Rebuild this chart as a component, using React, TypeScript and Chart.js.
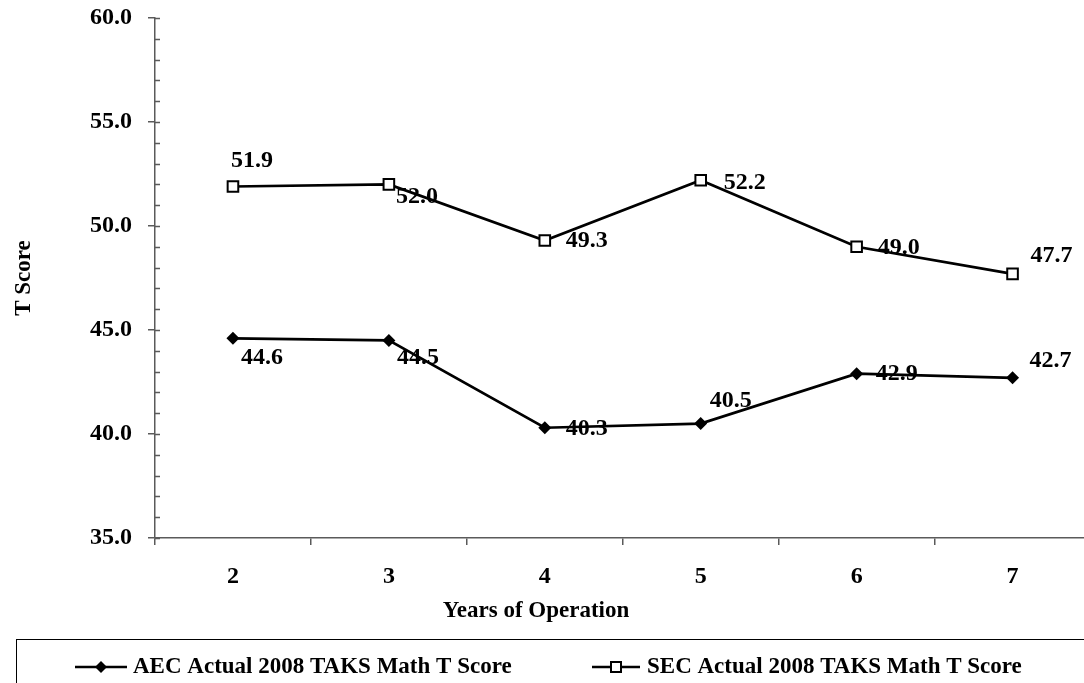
import React, { useEffect, useRef } from 'react';
import { Chart, registerables } from 'chart.js';

Chart.register(...registerables);

const categories = ['2', '3', '4', '5', '6', '7'];
const aecValues = [44.6, 44.5, 40.3, 40.5, 42.9, 42.7];
const secValues = [51.9, 52.0, 49.3, 52.2, 49.0, 47.7];
const aecLabel = 'AEC Actual 2008 TAKS Math T Score';
const secLabel = 'SEC Actual 2008 TAKS Math T Score';
const yTitle = 'T Score';
const xTitle = 'Years of Operation';

// label placement (dx, dy of label centre from its point), style only
const aecLabelOffsets = [[29, 19], [29, 17], [42, 1], [30, -23], [40, 0], [38, -17]];
const secLabelOffsets = [[19, -26], [28, 12], [42, 0], [44, 3], [42, 1], [39, -18]];

const FONT = '"Liberation Serif", "Times New Roman", serif';
const AXIS = '#5a5a5a';

const dataLabelPlugin = {
  id: 'dataLabels',
  afterDatasetsDraw(chart: any) {
    const ctx = chart.ctx;
    ctx.save();
    ctx.font = `bold 24px ${FONT}`;
    ctx.fillStyle = '#000';
    ctx.textAlign = 'center';
    ctx.textBaseline = 'middle';
    chart.data.datasets.forEach((ds: any, di: number) => {
      const meta = chart.getDatasetMeta(di);
      const offs = ds.labelOffsets || [];
      meta.data.forEach((el: any, i: number) => {
        const o = offs[i] || [0, 0];
        ctx.fillText(Number(ds.data[i]).toFixed(1), el.x + o[0], el.y + o[1]);
      });
    });
    ctx.restore();
  },
};

const minorTickPlugin = {
  id: 'minorTicks',
  afterDraw(chart: any) {
    const ctx = chart.ctx;
    const y = chart.scales.y;
    const left = chart.chartArea.left;
    ctx.save();
    ctx.strokeStyle = AXIS;
    ctx.lineWidth = 1.5;
    ctx.beginPath();
    for (let v = y.min; v <= y.max + 1e-9; v += 1) {
      const py = Math.round(y.getPixelForValue(v)) + 0.5;
      ctx.moveTo(left, py);
      ctx.lineTo(left + 5, py);
    }
    ctx.stroke();
    ctx.restore();
  },
};

const xTitlePlugin = {
  id: 'xTitle',
  afterDraw(chart: any) {
    const ctx = chart.ctx;
    ctx.save();
    ctx.fillStyle = '#000';
    ctx.font = `bold 23px ${FONT}`;
    ctx.textAlign = 'center';
    ctx.textBaseline = 'middle';
    ctx.fillText(xTitle, 536, 611);
    ctx.restore();
  },
};

const legendBoxPlugin = {
  id: 'legendBox',
  afterDraw(chart: any) {
    const ctx = chart.ctx;
    ctx.save();
    ctx.strokeStyle = '#000';
    ctx.lineWidth = 1;
    ctx.strokeRect(16.5, 639.5, 1078, 100);
    const cy = 667;
    const items = [
      { x1: 75, x2: 127, tx: 133, text: chart.data.datasets[0].label, style: 'diamond' },
      { x1: 592, x2: 640, tx: 647, text: chart.data.datasets[1].label, style: 'square' },
    ];
    items.forEach((it) => {
      ctx.strokeStyle = '#000';
      ctx.lineWidth = 2.5;
      ctx.beginPath();
      ctx.moveTo(it.x1, cy);
      ctx.lineTo(it.x2, cy);
      ctx.stroke();
      const cx = (it.x1 + it.x2) / 2;
      if (it.style === 'diamond') {
        ctx.fillStyle = '#000';
        ctx.beginPath();
        ctx.moveTo(cx - 6, cy);
        ctx.lineTo(cx, cy - 6);
        ctx.lineTo(cx + 6, cy);
        ctx.lineTo(cx, cy + 6);
        ctx.closePath();
        ctx.fill();
      } else {
        ctx.fillStyle = '#fff';
        ctx.lineWidth = 2;
        ctx.fillRect(cx - 5, cy - 5, 10, 10);
        ctx.strokeRect(cx - 5, cy - 5, 10, 10);
      }
      ctx.fillStyle = '#000';
      ctx.font = `bold 23px ${FONT}`;
      ctx.textAlign = 'left';
      ctx.textBaseline = 'middle';
      ctx.fillText(it.text, it.tx, cy);
    });
    ctx.restore();
  },
};

export default function App() {
  const ref = useRef<HTMLCanvasElement | null>(null);

  useEffect(() => {
    document.body.style.margin = '0';
    document.body.style.overflow = 'hidden';
    const canvas = ref.current;
    if (!canvas) return;
    const chart = new Chart(canvas, {
      type: 'line',
      data: {
        labels: categories,
        datasets: [
          {
            label: aecLabel,
            data: aecValues,
            borderColor: '#000',
            backgroundColor: '#000',
            borderWidth: 2.7,
            pointStyle: 'rectRot',
            pointRadius: 6.5,
            pointBorderWidth: 0,
            pointBackgroundColor: '#000',
            tension: 0,
            labelOffsets: aecLabelOffsets,
          } as any,
          {
            label: secLabel,
            data: secValues,
            borderColor: '#000',
            backgroundColor: '#fff',
            borderWidth: 2.7,
            pointStyle: 'rect',
            pointRadius: 7.5,
            pointBorderWidth: 2,
            pointBorderColor: '#000',
            pointBackgroundColor: '#fff',
            tension: 0,
            labelOffsets: secLabelOffsets,
          } as any,
        ],
      },
      options: {
        animation: false,
        responsive: false,
        devicePixelRatio: 1,
        layout: { padding: { left: 0, right: 9, top: 18, bottom: 0 } },
        plugins: {
          legend: { display: false },
          tooltip: { enabled: false },
        },
        scales: {
          x: {
            type: 'category',
            offset: true,
            afterFit: (s: any) => { s.height = 145; s.paddingLeft = 0; s.paddingRight = 0; },
            grid: {
              offset: true,
              drawOnChartArea: false,
              drawTicks: true,
              tickLength: 7,
              color: AXIS,
              lineWidth: 1.5,
            },
            border: { display: true, color: AXIS, width: 1.5 },
            ticks: {
              color: '#000',
              padding: 17,
              font: { family: FONT, size: 24, weight: 'bold' },
              maxRotation: 0,
            },
            title: { display: false, text: xTitle },
          },
          y: {
            min: 35,
            max: 60,
            afterFit: (s: any) => { s.width = 155; s.paddingTop = 0; s.paddingBottom = 0; },
            grid: {
              drawOnChartArea: false,
              drawTicks: true,
              tickLength: 7,
              color: AXIS,
              lineWidth: 1.5,
            },
            border: { display: true, color: AXIS, width: 1.5 },
            ticks: {
              stepSize: 5,
              color: '#000',
              padding: 16,
              font: { family: FONT, size: 24, weight: 'bold' },
              callback: (v: any) => Number(v).toFixed(1),
            },
            title: {
              display: true,
              text: yTitle,
              color: '#000',
              font: { family: FONT, size: 23, weight: 'bold' },
              padding: { top: 10, bottom: 0 },
            },
          },
        },
      } as any,
      plugins: [minorTickPlugin, dataLabelPlugin, xTitlePlugin, legendBoxPlugin],
    });
    return () => chart.destroy();
  }, []);

  return (
    <div style={{ position: 'absolute', left: 0, top: 0, width: 1100, height: 683, overflow: 'hidden' }}>
      <canvas ref={ref} width={1100} height={683} />
    </div>
  );
}
